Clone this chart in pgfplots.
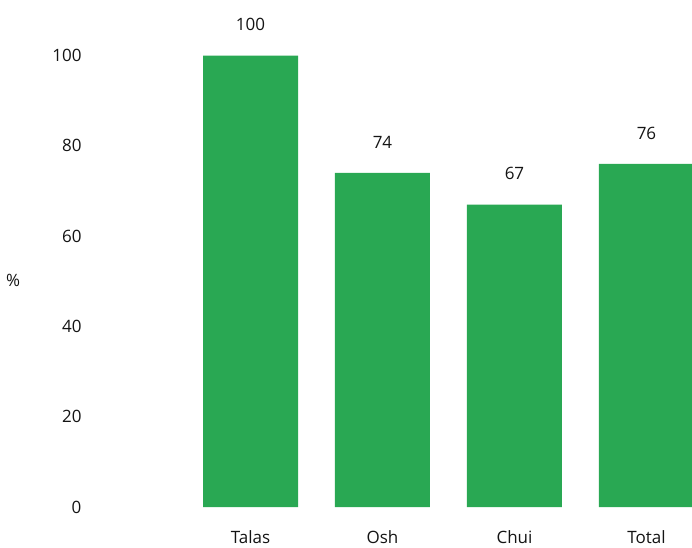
\documentclass[border=0pt]{standalone}
\usepackage{pgfplots}
\pgfplotsset{compat=1.18}
\usepackage{fontspec}
\setmainfont{Open Sans}
\definecolor{bargreen}{RGB}{41,168,83}
\definecolor{txt}{RGB}{20,20,20}
\begin{document}
\begin{tikzpicture}[x=1pt,y=1pt]
\useasboundingbox (0,0) rectangle (692,547);
\begin{axis}[
  at={(90pt,40pt)}, anchor=south west,
  scale only axis,
  width=602pt, height=505.6pt,
  xmin=-1.216, xmax=3.345,
  ymin=0, ymax=112,
  axis line style={draw=none},
  major tick length=0pt,
  /pgf/number format/assume math mode=true,
  xtick={0,1,2,3},
  xticklabels={Talas,Osh,Chui,Total},
  ytick={0,20,40,60,80,100},
  font=\fontsize{17}{20}\selectfont,
  ticklabel style={text=txt},
  xticklabel style={inner sep=0pt, text depth=0pt, anchor=north, yshift=-23pt},
  yticklabel style={xshift=-5pt},
  ylabel={\%},
  ylabel style={rotate=-90, anchor=center, at={(rel axis cs:0,0.448)}, xshift=-77pt, text=txt},
  every node near coord/.append style={text=txt, anchor=south, yshift=21pt, font=\fontsize{17}{20}\selectfont},
]
\addplot[ybar, bar width=95pt, bar shift=0pt, fill=bargreen, draw=none,
  nodes near coords, point meta=explicit symbolic]
  coordinates {(0,100)[100] (1,74)[74] (2,67)[67] (3,76)[76]};
\end{axis}
\end{tikzpicture}
\end{document}
